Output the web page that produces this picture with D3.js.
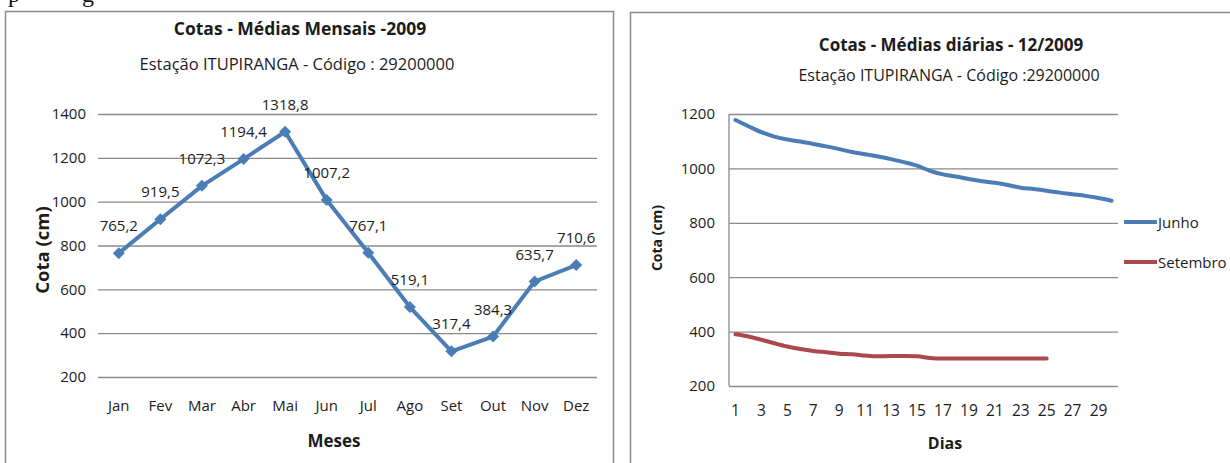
<!DOCTYPE html>
<html>
<head>
<meta charset="utf-8">
<script src="https://cdn.jsdelivr.net/npm/d3@7"></script>
<style>
  html, body { margin: 0; padding: 0; background: #fff; }
  svg { display: block; }
  text { font-family: "Open Sans", sans-serif; fill: #1c1c1c; }
</style>
</head>
<body>
<svg id="chart" width="1230" height="463"></svg>
<script>
// Monthly mean stage, 2009
const months = ["Jan","Fev","Mar","Abr","Mai","Jun","Jul","Ago","Set","Out","Nov","Dez"];
const monthlyMeans = [765.2, 919.5, 1072.3, 1194.4, 1318.8, 1007.2, 767.1, 519.1, 317.4, 384.3, 635.7, 710.6];
const monthlyTicks = [200, 400, 600, 800, 1000, 1200, 1400];

// Daily mean stage for two months
const days = d3.range(1, 31);
const junho = [1178, 1155, 1133, 1117, 1106, 1099, 1090, 1081, 1071, 1060,
               1052, 1044, 1034, 1023, 1010, 991, 978, 970, 961, 953,
               947, 939, 929, 924, 918, 911, 905, 899, 891, 881];
const setembro = [390, 382, 370, 357, 345, 336, 329, 324, 319, 317,
                  312, 309, 310, 310, 309, 303, 301, 301, 301, 301,
                  301, 301, 301, 301, 301];
const dailyTicks = [200, 400, 600, 800, 1000, 1200];
const dayTickLabels = d3.range(1, 30, 2);

const ptBR = d3.formatLocale({decimal: ",", thousands: ".", grouping: [3], currency: ["R$", ""]});
const fmt1 = ptBR.format(".1f");

const svg = d3.select("#chart");

// descenders of the document text line above the charts
svg.append("text").attr("x", 8).attr("y", 2)
  .style("font-family", "'Liberation Serif', serif").style("font-size", "24px").style("fill", "#111")
  .text("p");
svg.append("text").attr("x", 82).attr("y", 2)
  .style("font-family", "'Liberation Serif', serif").style("font-size", "24px").style("fill", "#111")
  .text("g");

// ---------- left chart: monthly means ----------
const L = svg.append("g");
L.append("rect").attr("x", 5.5).attr("y", 11.5).attr("width", 608).attr("height", 470)
  .attr("fill", "none").attr("stroke", "#8c8c8c").attr("stroke-width", 1.5);

L.append("text").attr("x", 300).attr("y", 35).attr("text-anchor", "middle")
  .style("font-size", "17.5px").style("font-weight", "bold")
  .text("Cotas - Médias Mensais -2009");
L.append("text").attr("x", 297).attr("y", 70).attr("text-anchor", "middle")
  .style("font-size", "16.5px")
  .text("Estação ITUPIRANGA - Código : 29200000");

const xL = d3.scaleBand().domain(months).range([98, 597]);
const yL = d3.scaleLinear().domain([200, 1400]).range([377, 114]);

const gridL = L.append("g")
  .attr("transform", "translate(98,0)")
  .call(d3.axisLeft(yL).tickValues(monthlyTicks).tickSize(-499).tickFormat(d3.format("d")).tickPadding(12));
gridL.select(".domain").remove();
gridL.selectAll(".tick line").attr("stroke", "#8a8a8a").attr("stroke-width", 1.3);
gridL.selectAll(".tick text").style("font-size", "15px").style("font-family", null).attr("fill", "#1c1c1c");

const axL = L.append("g")
  .attr("transform", "translate(0,377)")
  .call(d3.axisBottom(xL).tickSize(0).tickPadding(23));
axL.select(".domain").remove();
axL.selectAll(".tick text").style("font-size", "15px").style("font-family", null).attr("fill", "#1c1c1c");

L.append("text").attr("transform", "translate(49,250) rotate(-90)").attr("text-anchor", "middle")
  .style("font-size", "18.5px").style("font-weight", "bold").text("Cota (cm)");
L.append("text").attr("x", 334).attr("y", 447).attr("text-anchor", "middle")
  .style("font-size", "17px").style("font-weight", "bold").text("Meses");

const blue = "#4a7cb6";
const red = "#ac484b";
const xc = m => xL(m) + xL.bandwidth() / 2;

L.append("path").datum(monthlyMeans)
  .attr("fill", "none").attr("stroke", blue).attr("stroke-width", 4).attr("stroke-linejoin", "round")
  .attr("d", d3.line().x((d, i) => xc(months[i])).y(d => yL(d)));

L.selectAll("path.mk").data(monthlyMeans).join("path").attr("class", "mk")
  .attr("d", d3.symbol(d3.symbolSquare, 72)())
  .attr("transform", (d, i) => `translate(${xc(months[i])},${yL(d)}) rotate(45)`)
  .attr("fill", blue);

L.selectAll("text.lbl").data(monthlyMeans).join("text").attr("class", "lbl")
  .attr("x", (d, i) => xc(months[i]))
  .attr("y", d => yL(d) - 22)
  .attr("text-anchor", "middle")
  .style("font-size", "15px")
  .text(d => fmt1(d));

// ---------- right chart: daily means ----------
const R = svg.append("g");
R.append("rect").attr("x", 630.5).attr("y", 12.5).attr("width", 640).attr("height", 470)
  .attr("fill", "none").attr("stroke", "#8c8c8c").attr("stroke-width", 1.5);

R.append("text").attr("x", 951).attr("y", 51).attr("text-anchor", "middle")
  .style("font-size", "17px").style("font-weight", "bold")
  .text("Cotas - Médias diárias - 12/2009");
R.append("text").attr("x", 949).attr("y", 81).attr("text-anchor", "middle")
  .style("font-size", "16px")
  .text("Estação ITUPIRANGA - Código :29200000");

const xR = d3.scaleBand().domain(days).range([729, 1118]);
const yR = d3.scaleLinear().domain([200, 1200]).range([386, 114]);
const xd = d => xR(d) + xR.bandwidth() / 2;

const gridR = R.append("g")
  .attr("transform", "translate(729,0)")
  .call(d3.axisLeft(yR).tickValues(dailyTicks).tickSize(-389).tickFormat(d3.format("d")).tickPadding(14));
gridR.select(".domain").remove();
gridR.selectAll(".tick line").attr("stroke", "#8a8a8a").attr("stroke-width", 1.3);
gridR.selectAll(".tick text").style("font-size", "15px").style("font-family", null).attr("fill", "#1c1c1c");

R.append("line").attr("x1", 729).attr("x2", 729).attr("y1", 114).attr("y2", 386)
  .attr("stroke", "#8a8a8a").attr("stroke-width", 1.3);

const axR = R.append("g")
  .attr("transform", "translate(0,386)")
  .call(d3.axisBottom(xR).tickValues(dayTickLabels).tickSize(0).tickPadding(19));
axR.select(".domain").remove();
axR.selectAll(".tick text").style("font-size", "15.5px").style("font-family", null).attr("fill", "#1c1c1c");

R.append("text").attr("transform", "translate(662,238) rotate(-90)").attr("text-anchor", "middle")
  .style("font-size", "14px").style("font-weight", "bold").text("Cota (cm)");
R.append("text").attr("x", 945).attr("y", 449).attr("text-anchor", "middle")
  .style("font-size", "16px").style("font-weight", "bold").text("Dias");

const lineD = d3.line().x((d, i) => xd(days[i])).y(d => yR(d)).curve(d3.curveMonotoneX);
R.append("path").datum(junho)
  .attr("fill", "none").attr("stroke", blue).attr("stroke-width", 4).attr("stroke-linecap", "round")
  .attr("d", lineD);
R.append("path").datum(setembro)
  .attr("fill", "none").attr("stroke", red).attr("stroke-width", 4).attr("stroke-linecap", "round")
  .attr("d", lineD);

// legend
const legend = [{name: "Junho", color: blue, y: 222}, {name: "Setembro", color: red, y: 262}];
const lg = R.selectAll("g.lg").data(legend).join("g").attr("class", "lg");
lg.append("line").attr("x1", 1124).attr("x2", 1157).attr("y1", d => d.y).attr("y2", d => d.y)
  .attr("stroke", d => d.color).attr("stroke-width", 4);
lg.append("text").attr("x", 1158).attr("y", d => d.y + 5.5)
  .style("font-size", "15px").text(d => d.name);
</script>
</body>
</html>
